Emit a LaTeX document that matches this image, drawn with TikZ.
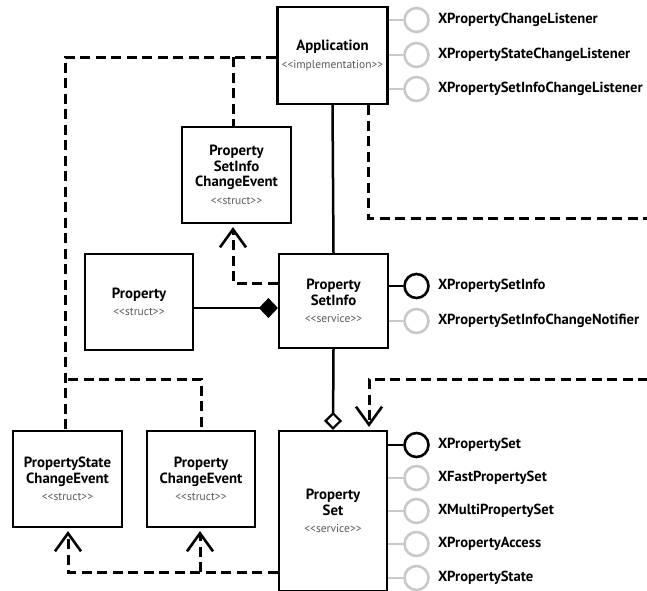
\documentclass[tikz,border=0pt]{standalone}
\usepackage{fontspec}
\setmainfont{PT Sans}
\usetikzlibrary{arrows.meta}
\definecolor{lolgray}{HTML}{C8C8C8}
\definecolor{stereo}{HTML}{5A5A5A}
\begin{document}
\begin{tikzpicture}[x=1pt,y=-1pt,
  box/.style={draw=black,line width=2.2pt,fill=white,inner sep=0pt,align=center,
    minimum width=110pt,font=\fontsize{14.8}{15.5}\selectfont\bfseries},
  dashline/.style={line width=3pt,dash pattern=on 10pt off 5.5pt},
  dep/.style={dashline,-{Straight Barb[length=18pt,width=26pt,line width=2.6pt]},shorten >=3pt},
  solidline/.style={line width=2.5pt},
  lol/.style={circle,draw=lolgray,line width=2.6pt,minimum size=24pt,inner sep=0pt},
  lolb/.style={circle,draw=black,line width=2.6pt,minimum size=24pt,inner sep=0pt},
  lline/.style={draw=lolgray,line width=2.6pt},
  llineb/.style={draw=black,line width=2.6pt},
  iface/.style={anchor=west,inner sep=0pt,font=\fontsize{14.6}{16}\selectfont\bfseries}
]
\useasboundingbox (0,0) rectangle (647,590);
\newcommand{\stereo}[1]{\\[2pt]{\fontsize{11.5}{12}\selectfont\mdseries\color{stereo}#1}}
% boxes
\node[box,minimum height=97pt] (app) at (332.5,55.5) {Application\stereo{<{}<implementation>{}>}};
\node[box,minimum height=96pt,minimum width=109pt] (psice) at (236.5,175) {Property\\SetInfo\\ChangeEvent\stereo{<{}<struct>{}>}};
\node[box,minimum height=96pt,minimum width=108pt] (prop) at (139,302) {Property\stereo{<{}<struct>{}>}};
\node[box,minimum height=94pt,minimum width=109pt] (psi) at (333.5,301) {Property\\SetInfo\stereo{<{}<service>{}>}};
\node[box,minimum height=160pt,minimum width=108pt] (ps) at (333,511) {Property\\Set\stereo{<{}<service>{}>}};
\node[box,minimum height=96pt,minimum width=109pt] (psce) at (67.5,479) {PropertyState\\ChangeEvent\stereo{<{}<struct>{}>}};
\node[box,minimum height=96pt,minimum width=108pt] (pce) at (201,479) {Property\\ChangeEvent\stereo{<{}<struct>{}>}};
% solid connectors
\draw[solidline] (app.south) -- (psi.north);
\draw[solidline,-{Diamond[open,length=18pt,width=18pt,line width=2.2pt]}] (psi.south) -- (ps.north);
\draw[solidline,-{Diamond[length=19pt,width=20pt]}] ([yshift=-6pt]prop.east) -- ([yshift=-6pt]prop.east -| psi.west);
% dashed connectors
\draw[dashline] ([yshift=-1.5pt]app.west) -| ([xshift=-2.5pt]psce.north);
\coordinate (j1) at (233,57);
\draw[dashline] (j1) -- (j1 |- psice.north);
\coordinate (j2) at (68,379);
\draw[dashline] (j2) -| (pce.north);
\draw[dep] ([yshift=18pt]psi.west) -| ([xshift=-3.5pt]psice.south);
\draw[dep] ([yshift=-61pt]ps.west) -| ([xshift=0.5pt]psce.south);
\coordinate (j3) at (200,572);
\draw[dep] (j3) -- (j3 |- pce.south);
\coordinate (r1) at (648,218);
\draw[dashline] ([xshift=36pt]app.south) |- (r1);
\coordinate (r2) at (648,379);
\draw[dep] (r2) -| ([xshift=36pt]ps.north);
% lollipops
\foreach \n/\y/\t/\k in {a1/20/XPropertyChangeListener/lol, a2/55/XPropertyStateChangeListener/lol, a3/89/XPropertySetInfoChangeListener/lol}{
  \node[\k] (\n) at (416.5,\y) {};
  \draw[lline] (app.east |- \n) -- (\n);
  \node[iface] (\n t) at ([xshift=8pt]\n.east) {\t};
}
\node[lolb] (b1) at (416.5,286) {};
\draw[llineb] (psi.east |- b1) -- (b1);
\node[iface] (b1t) at ([xshift=8pt]b1.east) {XPropertySetInfo};
\node[lol] (b2) at (416.5,321) {};
\draw[lline] (psi.east |- b2) -- (b2);
\node[iface] (b2t) at ([xshift=8pt]b2.east) {XPropertySetInfoChangeNotifier};
\node[lolb] (c1) at (416.5,445) {};
\draw[llineb] (ps.east |- c1) -- (c1);
\node[iface] (c1t) at ([xshift=8pt]c1.east) {XPropertySet};
\foreach \n/\y/\t in {c2/478/XFastPropertySet, c3/511/XMultiPropertySet, c4/544/XPropertyAccess, c5/578/XPropertyState}{
  \node[lol] (\n) at (416.5,\y) {};
  \draw[lline] (ps.east |- \n) -- (\n);
  \node[iface] (\n t) at ([xshift=8pt]\n.east) {\t};
}
\end{tikzpicture}
\end{document}
